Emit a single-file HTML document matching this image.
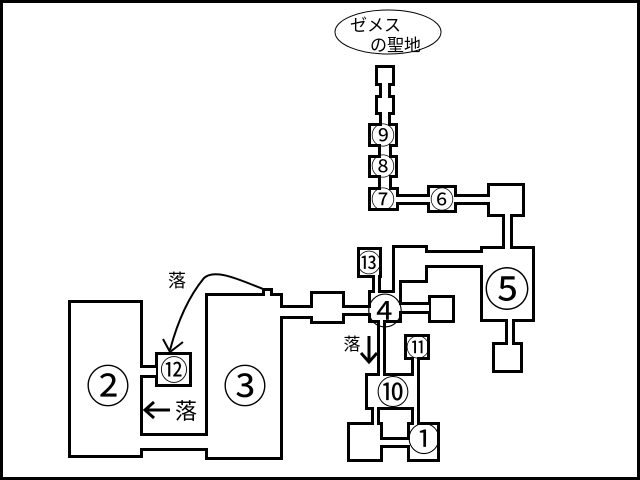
<!DOCTYPE html>
<html><head><meta charset="utf-8"><style>
html,body{margin:0;padding:0;background:#fff;}
svg{display:block;}
text{font-family:"Liberation Sans","Noto Sans CJK JP",sans-serif;fill:#000;}
</style></head><body>
<svg width="640" height="480" viewBox="0 0 640 480" xmlns="http://www.w3.org/2000/svg">
<rect x="0" y="0" width="640" height="480" fill="#fff"/>
<rect x="1.5" y="1.5" width="637" height="477" fill="none" stroke="#000" stroke-width="3"/>
<defs>
<g id="rooms">
<rect x="378" y="68" width="14" height="15"/>
<rect x="382" y="82" width="6" height="17"/>
<rect x="378" y="98" width="14" height="14"/>
<rect x="382" y="111" width="6" height="16"/>
<rect x="371" y="126" width="24" height="18"/>
<rect x="381" y="143" width="8" height="16"/>
<rect x="371" y="158" width="24" height="17"/>
<rect x="381" y="174" width="8" height="16"/>
<rect x="371" y="190" width="25" height="18"/>
<rect x="395" y="197" width="36" height="5"/>
<rect x="430" y="188" width="24" height="22"/>
<rect x="453" y="197" width="38" height="5"/>
<rect x="490" y="186" width="32" height="28"/>
<rect x="505" y="213" width="5" height="37"/>
<rect x="483" y="249" width="49" height="70"/>
<rect x="508" y="318" width="4" height="28"/>
<rect x="495" y="345" width="25" height="25"/>
<rect x="424" y="253" width="60" height="12"/>
<rect x="395" y="248" width="30" height="32"/>
<rect x="395" y="279" width="4" height="15"/>
<rect x="360" y="250" width="19" height="25"/>
<rect x="375" y="274" width="3" height="20"/>
<rect x="371" y="293" width="28" height="27"/>
<rect x="398" y="305" width="31" height="6"/>
<rect x="431" y="298" width="21" height="22"/>
<rect x="341" y="308" width="31" height="5"/>
<rect x="380" y="319" width="3" height="58"/>
<rect x="313" y="294" width="29" height="27"/>
<rect x="280" y="308" width="34" height="8"/>
<rect x="407" y="337" width="20" height="20"/>
<rect x="414" y="356" width="3" height="21"/>
<rect x="368" y="376" width="49" height="31"/>
<rect x="374" y="406" width="3" height="20"/>
<rect x="414" y="406" width="3" height="20"/>
<rect x="350" y="425" width="30" height="34"/>
<rect x="379" y="440" width="32" height="5"/>
<rect x="410" y="425" width="27" height="34"/>
<rect x="208" y="296" width="72" height="161"/>
<rect x="265" y="291" width="5" height="6"/>
<rect x="71" y="303" width="69" height="152"/>
<rect x="139" y="368" width="17" height="7"/>
<rect x="158" y="355" width="31" height="29"/>
<rect x="139" y="436" width="70" height="12"/>
</g>
</defs>
<g fill="#000" stroke="#000" stroke-width="6"><use href="#rooms"/></g>
<g fill="#fff"><use href="#rooms"/></g>
<ellipse cx="388" cy="32" rx="53" ry="22" fill="#fff" stroke="#000" stroke-width="1"/>
<text x="350" y="31" font-size="17">ゼメス</text>
<text x="370" y="51" font-size="17">の聖地</text>
<g text-anchor="middle">
<text x="383" y="144" font-size="24">⑨</text>
<text x="383" y="175" font-size="24">⑧</text>
<text x="383" y="208" font-size="24">⑦</text>
<text x="442" y="208" font-size="24">⑥</text>
<text x="507" y="306" font-size="46">⑤</text>
<text x="385" y="324" font-size="36">④</text>
<text x="369" y="272" font-size="25">⑬</text>
<text x="418" y="356" font-size="24">⑪</text>
<text x="393" y="404" font-size="33">⑩</text>
<text x="424" y="451" font-size="33">①</text>
<text x="108" y="402" font-size="44">②</text>
<text x="245" y="402" font-size="44">③</text>
<text x="174" y="380" font-size="28">⑫</text>
<text x="177" y="287" font-size="18">落</text>
<text x="352" y="350" font-size="17">落</text>
<text x="186" y="419" font-size="22">落</text>
</g>
<path d="M263,289 C240,280 215,268 204,278 C190,295 178,320 170,350" fill="none" stroke="#000" stroke-width="2"/>
<path d="M163,339 L170,352 L183,342" fill="none" stroke="#000" stroke-width="2"/>
<path d="M369,336 L369,361 M361,353 L369,362 L377,353" fill="none" stroke="#000" stroke-width="3"/>
<path d="M145,410 L170,410 M154,402 L145,410 L154,418" fill="none" stroke="#000" stroke-width="3"/>
</svg>
</body></html>
